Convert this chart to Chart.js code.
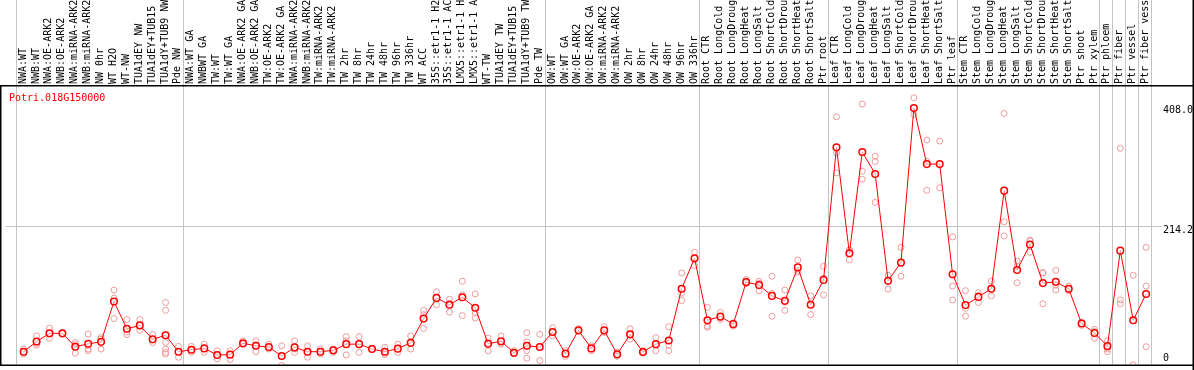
<!DOCTYPE html>
<html>
<head>
<meta charset="utf-8">
<script src="https://cdn.jsdelivr.net/npm/chart.js@4/dist/chart.umd.min.js"></script>
<style>
  html, body { margin: 0; padding: 0; background: #fff; }
  #wrap { width: 1194px; height: 370px; }
</style>
</head>
<body>
<div id="wrap"><canvas id="myChart"></canvas></div>
<script>
'use strict';

let geneName = 'Potri.018G150000';

let labels = ['NWA:WT', 'NWB:WT', 'NWA:OE-ARK2', 'NWB:OE-ARK2', 'NWA:miRNA-ARK2', 'NWB:miRNA-ARK2',
    'NW 0hr', 'WT H2O', 'WT-NW', 'TUA1dEY NW', 'TUA1dEY+TUB15 NW', 'TUA1dY+TUB9 NW', 'Pde NW',
    'NWA:WT GA', 'NWBWT GA', 'TW:WT', 'TW:WT GA', 'NWA:OE-ARK2 GA', 'NWB:OE-ARK2 GA', 'TW:OE-ARK2',
    'TW:OE-ARK2 GA', 'NWA:miRNA-ARK2 GA', 'NWB:miRNA-ARK2 GA', 'TW:miRNA-ARK2', 'TW:miRNA-ARK2 GA',
    'TW 2hr', 'TW 8hr', 'TW 24hr', 'TW 48hr', 'TW 96hr', 'TW 336hr', 'WT ACC',
    '35S::etr1-1 H2O', '35S::etr1-1 ACC', 'LMX5::etr1-1 H2O', 'LMX5::etr1-1 ACC', 'WT-TW',
    'TUA1dEY TW', 'TUA1dEY+TUB15 TW', 'TUA1dY+TUB9 TW', 'Pde TW',
    'OW:WT', 'OW:WT GA', 'OW:OE-ARK2', 'OW:OE-ARK2 GA', 'OW:miRNA-ARK2', 'OW:miRNA-ARK2 GA',
    'OW 2hr', 'OW 8hr', 'OW 24hr', 'OW 48hr', 'OW 96hr', 'OW 336hr',
    'Root CTR', 'Root LongCold', 'Root LongDrought', 'Root LongHeat', 'Root LongSalt',
    'Root ShortCold', 'Root ShortDrought', 'Root ShortHeat', 'Root ShortSalt', 'Ptr root',
    'Leaf CTR', 'Leaf LongCold', 'Leaf LongDrought', 'Leaf LongHeat', 'Leaf LongSalt',
    'Leaf ShortCold', 'Leaf ShortDrought', 'Leaf ShortHeat', 'Leaf ShortSalt', 'Ptr leaf',
    'Stem CTR', 'Stem LongCold', 'Stem LongDrought', 'Stem LongHeat', 'Stem LongSalt',
    'Stem ShortCold', 'Stem ShortDrought', 'Stem ShortHeat', 'Stem ShortSalt', 'Ptr shoot',
    'Ptr xylem', 'Ptr phloem', 'Ptr fiber', 'Ptr vessel', 'Ptr fiber vessel'];

// mean expression per sample
let means = [23.4, 38.8, 51.2, 51.2, 30.9, 35.3, 38.3, 99.4, 58.2, 63.2,
    42.3, 48.3, 23.4, 26.4, 28.4, 18.4, 18.9, 36.3, 32.3, 30.4,
    16.9, 29.9, 23.4, 23.4, 25.4, 34.8, 34.8, 27.4, 23.4, 28.0,
    36.8, 73.6, 104.9, 94.5, 105.9, 90.0, 35.3, 39.3, 21.9, 32.3,
    30.4, 53.2, 20.4, 55.7, 28.4, 55.7, 19.4, 49.7, 22.9, 34.8,
    40.3, 118.8, 165.0, 71.1, 76.6, 65.1, 128.8, 124.3, 107.9, 100.4,
    151.1, 94.5, 132.2, 333.0, 172.5, 326.0, 292.7, 130.7, 158.6, 392.6,
    307.6, 307.6, 140.7, 94.0, 106.4, 118.8, 267.4, 147.1, 185.9, 127.3,
    129.2, 118.8, 66.1, 51.7, 31.9, 176.5, 71.1, 110.9];

// replicate values per sample
let reps = [
    [27.4, 19.9, 23], [47.3, 33.3, 36], [59.2, 43.8, 51], [51, 52, 50], [37.3, 21.4, 34],
    [50.2, 24.9, 27.4], [42.3, 27.4, 44.8], [116.8, 73.6, 104.4], [72.1, 49.2, 53.2], [72.1, 55.7, 63.2],
    [49.7, 37.3, 41.3], [97.9, 86, 37.3, 27.4, 22.4, 19.9], [31.4, 15, 23.4], [31.4, 22.4, 25.5], [34.8, 22.4, 28],
    [24.9, 12.5, 18], [24.9, 11.5, 20], [39.8, 34.8, 34.5], [39.8, 23.4, 33.5], [34.8, 27.4, 29],
    [32.3, 2.5, 16], [39.8, 22.4, 27.5], [32.3, 15, 23], [27.4, 19.9, 23], [27.4, 22.4, 26.5],
    [46.3, 18.4, 40], [46.3, 22.4, 36], [28.5, 26.5, 27.4], [29.9, 21.4, 19], [34.8, 22.4, 28],
    [47.3, 27.4, 35.7], [86, 79.6, 58.7], [114.3, 94.5, 105], [102.9, 83.5, 97], [130.2, 109.4, 78.1],
    [110.9, 82, 74.6], [43.8, 24.9, 37], [47.3, 34.8, 36], [24.9, 19.9, 21], [52.2, 38.3, 24.9, 13.5],
    [49.7, 10, 31.5], [59.7, 47.3, 52.6], [24.9, 16.4, 20], [58.2, 54.2, 54.7], [32.3, 24.9, 28],
    [61.2, 53.2, 52.7], [22.4, 16.4, 19.4], [58.2, 42.3, 48.6], [24.9, 22.4, 21.4], [44.8, 24.9, 34.7],
    [61.2, 33.3, 24.9], [142.7, 111.9, 100.9], [174, 154.1, 165], [90.5, 62.2, 60.6], [83, 72.1, 74.7],
    [67.1, 62.2, 66], [132.7, 126.8, 126.9], [130.2, 115.8, 127], [137.7, 111.9, 77.1], [116.8, 86, 98.4],
    [162.5, 144.2, 146.6], [107.9, 79.6, 96], [152.6, 109.4, 134.6], [379.2, 324.5, 294.2], [177.4, 162.5, 177.6],
    [398.6, 296.7, 284.8], [319.6, 311.6, 249.5], [139.2, 118.3, 130.7], [181.4, 137.7, 156.7], [408.0, 382.7, 392.6],
    [343.9, 267.9, 311.6], [342.4, 271.9, 307.6], [197.3, 122.8, 101.9], [115.8, 77.1, 89], [112.8, 97.9, 108.5],
    [130.2, 107.9, 118.3], [384.2, 220.2, 198.8], [160.6, 127.8, 153], [192.4, 174, 191.3], [142.7, 96, 143.2],
    [146.6, 116.8, 124.2], [122.8, 115.8, 117.8], [68.1, 63.2, 67], [57.2, 43.8, 54.1], [39.8, 27.4, 23.4, 29.9],
    [331.5, 101.9, 96], [139.2, 3.5], [181.4, 122.8, 30.9]
];

// last sample index of each group (-1 = line before first sample)
let groupEnds = [-1, 12, 40, 52, 62, 72, 83, 84, 85, 86, 87];

let yTicks = [408.0, 214.2, 0];
let yTickLabels = ['408.0', '214.2', '0'];

const FONT = '10px "DejaVu Sans Mono", monospace';

let meanPoints = means.map((v, i) => ({ x: i, y: v }));
let repPoints = [];
for (let i = 0; i < reps.length; i++) {
    for (let j = 0; j < reps[i].length; j++) {
        repPoints.push({ x: i, y: reps[i][j] });
    }
}

const framePlugin = {
    id: 'frame',
    beforeDatasetsDraw(chart) {
        const ctx = chart.ctx;
        const xs = chart.scales.x;
        const ys = chart.scales.y;
        const area = chart.chartArea;
        ctx.save();
        ctx.strokeStyle = '#c4c4c4';
        ctx.lineWidth = 1;
        // group separators
        for (let k of groupEnds) {
            let px = Math.round(xs.getPixelForValue(k + 0.38)) + 0.5;
            ctx.beginPath();
            ctx.moveTo(px, 0);
            ctx.lineTo(px, area.bottom);
            ctx.stroke();
        }
        // middle gridline
        let gy = Math.round(ys.getPixelForValue(yTicks[1])) + 0.5;
        ctx.beginPath();
        ctx.moveTo(area.left, gy);
        ctx.lineTo(1162, gy);
        ctx.stroke();
        ctx.restore();
    },
    afterDraw(chart) {
        const ctx = chart.ctx;
        const xs = chart.scales.x;
        const ys = chart.scales.y;
        const area = chart.chartArea;
        const W = chart.width;
        ctx.save();

        // sample names, rotated, clipped to the header
        ctx.save();
        ctx.beginPath();
        ctx.rect(0, 0, W, 85);
        ctx.clip();
        ctx.fillStyle = '#000';
        ctx.font = FONT;
        ctx.textAlign = 'left';
        ctx.textBaseline = 'alphabetic';
        for (let i = 0; i < labels.length; i++) {
            ctx.save();
            ctx.translate(xs.getPixelForValue(i) + 2, 84);
            ctx.rotate(-Math.PI / 2);
            ctx.fillText(labels[i], 0, 0);
            ctx.restore();
        }
        ctx.restore();

        // frame
        ctx.fillStyle = '#000';
        ctx.fillRect(0, 85, W, 1.5);
        ctx.fillRect(0, 85, 1.5, area.bottom - 85 + 1);
        ctx.fillRect(W - 1.5, 0, 1.5, chart.height);
        ctx.fillRect(0, area.bottom, W, 1.5);

        // gene name
        ctx.fillStyle = '#ff0000';
        ctx.font = FONT;
        ctx.textBaseline = 'alphabetic';
        ctx.fillText(geneName, 9, 101);

        // y labels on the right
        ctx.fillStyle = '#000';
        ctx.textBaseline = 'top';
        for (let i = 0; i < yTicks.length; i++) {
            let py = ys.getPixelForValue(yTicks[i]);
            py = Math.min(Math.max(py, area.top + 18), area.bottom - 11);
            ctx.fillText(yTickLabels[i], 1163, py);
        }
        ctx.restore();
    }
};

var ctx = document.getElementById('myChart').getContext('2d');
var myChart = new Chart(ctx, {
    type: 'line',
    data: {
        datasets: [{
            label: 'mean',
            data: meanPoints,
            borderColor: '#ff0000',
            borderWidth: 1,
            pointRadius: 3.3,
            pointBorderWidth: 1.5,
            pointBorderColor: '#ff0000',
            pointBackgroundColor: 'rgba(255,255,255,0.6)',
            tension: 0
        },
        {
            label: 'replicates',
            data: repPoints,
            showLine: false,
            pointRadius: 3,
            pointBorderWidth: 1,
            pointBorderColor: '#ee9a9a',
            pointBackgroundColor: 'rgba(0,0,0,0)'
        }]
    },
    options: {
        responsive: true,
        maintainAspectRatio: false,
        animation: false,
        devicePixelRatio: 1,
        layout: { padding: { left: 1, right: 1, top: 87, bottom: 1 } },
        plugins: {
            legend: { display: false },
            tooltip: { enabled: false }
        },
        scales: {
            x: { type: 'linear', min: -1.408, max: 90.285, display: false },
            y: { type: 'linear', min: 4.0, max: 424.4, display: false }
        }
    },
    plugins: [framePlugin]
});
</script>
</body>
</html>
